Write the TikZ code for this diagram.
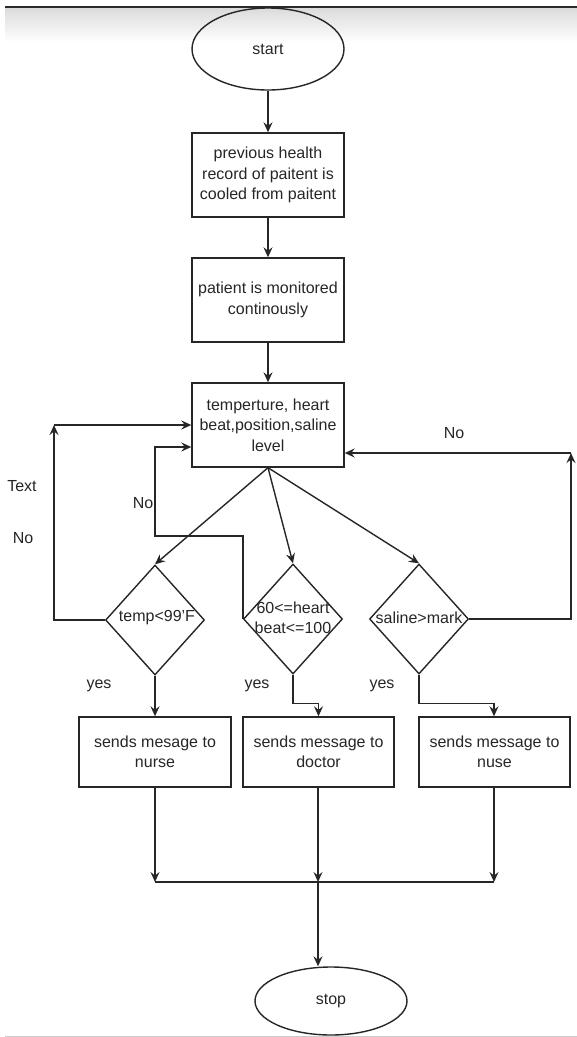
\documentclass[tikz,border=0pt]{standalone}
\usepackage{fontspec}
\setmainfont{Liberation Sans}
\usepackage{tikz}
\usetikzlibrary{shapes.geometric,arrows.meta}
\definecolor{ink}{HTML}{262626}
\definecolor{frame}{HTML}{2A2A2A}
\tikzset{startstop/.style={draw=ink,ellipse,line width=1.4pt,text=ink,inner sep=0pt,minimum width=152pt,minimum height=82pt,font=\fontsize{16}{20.5}\selectfont}}
\tikzset{proc/.style={draw=ink,rectangle,line width=1.4pt,text=ink,align=center,inner sep=0pt,minimum width=152pt,minimum height=84pt,font=\fontsize{16}{20.5}\selectfont}}
\tikzset{decision/.style={draw=ink,diamond,line width=1.4pt,inner sep=0pt,minimum width=99pt,minimum height=110pt}}
\tikzset{dtext/.style={text=ink,align=center,inner sep=0pt,font=\fontsize{16}{20.5}\selectfont}}
\tikzset{lbl/.style={text=ink,inner sep=0pt,font=\fontsize{16}{20.5}\selectfont}}
\tikzset{arr/.style={draw=ink,line width=1.4pt,-{Stealth[length=10pt,width=9pt,inset=3.5pt]}}}
\tikzset{line/.style={draw=ink,line width=1.4pt}}

\begin{document}
\begin{tikzpicture}[x=1pt,y=-1pt]
    \useasboundingbox (0,0) rectangle (577,1037);
    \shade[top color=gray!28,bottom color=white] (5,8) rectangle (577,42);
    \draw[frame,line width=2pt] (5,7) -- (577,7);
    \draw[gray!40,line width=1pt] (5,1036) -- (577,1036);

    \node[startstop] (start) at (268,49) {start};

    \node[proc] (rec) at (268,175)
    {previous health\\record of paitent is\\cooled from paitent};

    \node[proc] (mon) at (268,300) {patient is monitored\\continously};

    \node[proc] (read) at (268,425)
    {temperture, heart\\beat,position,saline\\level};

    \node[decision] (temp) at (155,620) {};
    \node[dtext] (temptxt) at (157,618) {temp<99'F};

    \node[decision] (heart) at (293,619) {};
    \node[dtext] (hearttxt) at (293,618) {60<=heart\\beat<=100};

    \node[decision] (sal) at (419,619) {};
    \node[dtext] (saltxt) at (419,618) {saline>mark};

    \node[proc,minimum height=70pt] (nurse) at (155,752) {sends mesage to\\nurse};
    \node[proc,minimum height=70pt,minimum width=151pt] (doctor) at (318.5,752) {sends message to\\doctor};
    \node[proc,minimum height=70pt,minimum width=151pt] (nuse) at (494.5,752) {sends message to\\nuse};

    \node[startstop,minimum height=68pt] (stop) at (331,1001) {stop};

    % labels
    \node[lbl] (txt) at (22,486) {Text};
    \node[lbl] (no1) at (23,538) {No};
    \node[lbl] (no2) at (143,503) {No};
    \node[lbl] (no3) at (454,433) {No};
    \node[lbl] (yes1) at (99,686) {yes};
    \node[lbl] (yes2) at (257,686) {yes};
    \node[lbl] (yes3) at (382,686) {yes};

    \coordinate (c1) at (54,425);
    \coordinate (c2a) at (155,536);
    \coordinate (c2) at (155,447);
    \coordinate (c3) at (571,453);
    \coordinate (j1) at (155,882);
    \coordinate (j2) at (318,882);
    \coordinate (j3) at (494,882);

    \draw[arr] (start) -- (rec);
    \draw[arr] (rec) -- (mon);
    \draw[arr] (mon) -- (read);
    \draw[arr] (read.south) -- (temp.north);
    \draw[arr] (read.south) -- (heart.north);
    \draw[arr] (read.south) -- (sal.north);

    % loops back
    \draw[arr] (temp.west) -| (c1);
    \draw[arr] (c1) -- (c1 -| read.west);
    \draw[arr] (heart.west) |- (c2a) -- (c2) -- (c2 -| read.west);
    \draw[arr] (sal.east) -| (c3);
    \draw[arr] (c3) -- (c3 -| read.east);

    % yes branches
    \draw[arr] (temp.south) -- (nurse.north);
    \draw[arr] (heart.south) -- ++(0,29) -| (doctor.north);
    \draw[arr] (sal.south) -- ++(0,29) -| (nuse.north -| j3);

    \draw[arr] (nurse.south) -- (j1);
    \draw[arr] (doctor.south -| j2) -- (j2);
    \draw[arr] (nuse.south -| j3) -- (j3);
    \draw[line] (j1) -- (j3);
    \draw[arr] (j2) -- (j2 |- stop.north);
\end{tikzpicture}
\end{document}
